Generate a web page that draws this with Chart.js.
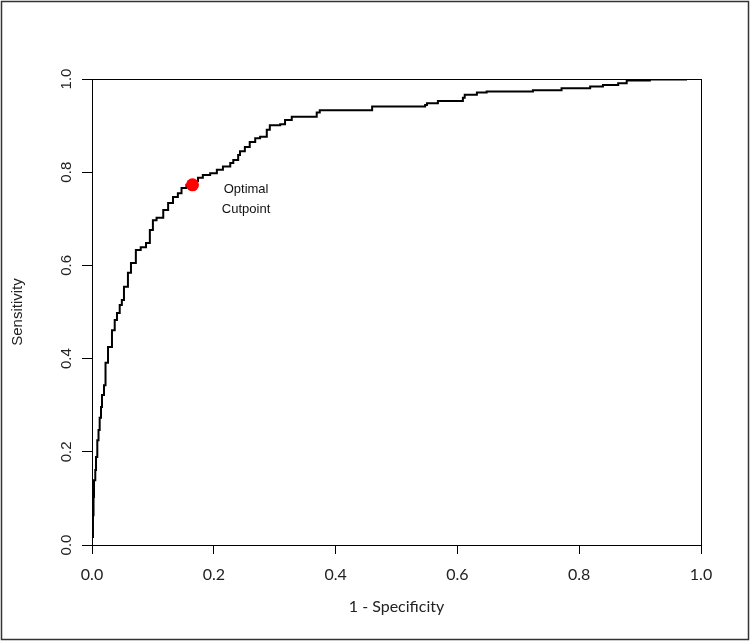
<!DOCTYPE html>
<html>
<head>
<meta charset="utf-8">
<script src="https://cdn.jsdelivr.net/npm/chart.js@4.4.1/dist/chart.umd.min.js"></script>
<style>
  html, body { margin: 0; padding: 0; background: #fff; }
  #wrap { width: 750px; height: 641px; position: relative; }
</style>
</head>
<body>
<div id="wrap"><canvas id="c" width="750" height="641"></canvas></div>
<script>
// ROC curve points (1 - specificity, sensitivity)
const fpr = [0, 0.0016, 0.0025, 0.0033, 0.0054, 0.0066, 0.0087, 0.0107, 0.0126, 0.0148, 0.0164, 0.0197, 0.0222, 0.0263, 0.0328, 0.0373, 0.041, 0.0455, 0.049, 0.0525, 0.059, 0.064, 0.072, 0.080, 0.0887, 0.095, 0.100, 0.106, 0.117, 0.125, 0.133, 0.141, 0.147, 0.155, 0.165, 0.174, 0.182, 0.194, 0.205, 0.215, 0.227, 0.232, 0.240, 0.243, 0.251, 0.259, 0.268, 0.276, 0.287, 0.292, 0.309, 0.317, 0.328, 0.333, 0.369, 0.374, 0.402, 0.460, 0.463, 0.547, 0.550, 0.568, 0.609, 0.612, 0.632, 0.648, 0.724, 0.771, 0.818, 0.839, 0.864, 0.878, 0.916, 0.927, 0.977];
const tpr = [0, 0.017, 0.064, 0.103, 0.139, 0.161, 0.189, 0.225, 0.247, 0.273, 0.296, 0.322, 0.343, 0.391, 0.425, 0.461, 0.483, 0.498, 0.515, 0.526, 0.554, 0.584, 0.605, 0.633, 0.639, 0.648, 0.676, 0.697, 0.702, 0.719, 0.734, 0.747, 0.755, 0.766, 0.773, 0.781, 0.788, 0.794, 0.798, 0.805, 0.812, 0.820, 0.826, 0.837, 0.845, 0.854, 0.865, 0.873, 0.876, 0.891, 0.901, 0.903, 0.912, 0.919, 0.919, 0.928, 0.933, 0.933, 0.941, 0.941, 0.944, 0.948, 0.953, 0.960, 0.966, 0.971, 0.973, 0.976, 0.980, 0.984, 0.987, 0.991, 0.997, 0.999, 0.999];
const optimalX = [0.165];
const optimalY = [0.773];
const annotationLines = ["Optimal", "Cutpoint"];
const annotationPos = { x: 0.253, y: [0.762, 0.721] };
const tickValues = [0, 0.2, 0.4, 0.6, 0.8, 1.0];
const xTitle = "1 - Specificity";
const yTitle = "Sensitivity";

const rocData = fpr.map((v, i) => ({ x: v, y: tpr[i] }));
const optData = optimalX.map((v, i) => ({ x: v, y: optimalY[i] }));

const decor = {
  id: 'decor',
  beforeDraw(chart) {
    const ctx = chart.ctx;
    ctx.save();
    ctx.fillStyle = '#fff';
    ctx.fillRect(0, 0, chart.width, chart.height);
    ctx.restore();
  },
  afterDraw(chart) {
    const ctx = chart.ctx;
    const a = chart.chartArea;
    const xs = chart.scales.x, ys = chart.scales.y;
    ctx.save();
    // outer border
    ctx.strokeStyle = '#333';
    ctx.lineWidth = 1.5;
    ctx.strokeRect(1.5, 1.5, chart.width - 3, chart.height - 3);
    // plot frame
    ctx.strokeStyle = '#000';
    ctx.lineWidth = 1;
    ctx.strokeRect(Math.round(a.left) + 0.5, Math.round(a.top) + 0.5, Math.round(a.right - a.left), Math.round(a.bottom - a.top));
    // rotated y tick labels
    ctx.fillStyle = '#222';
    ctx.font = '15px "Liberation Sans", Arial, sans-serif';
    ctx.textAlign = 'center';
    ctx.textBaseline = 'middle';
    ys.ticks.forEach(t => {
      const py = ys.getPixelForValue(t.value);
      ctx.save();
      ctx.translate(67, py);
      ctx.rotate(-Math.PI / 2);
      ctx.fillText(t.value.toFixed(1), 0, 0);
      ctx.restore();
    });
    // annotation text
    ctx.font = '13px "Liberation Sans", Arial, sans-serif';
    ctx.fillStyle = '#111';
    annotationLines.forEach((s, i) => {
      ctx.fillText(s, xs.getPixelForValue(annotationPos.x), ys.getPixelForValue(annotationPos.y[i]));
    });
    ctx.restore();
  }
};

new Chart(document.getElementById('c'), {
  type: 'scatter',
  data: {
    datasets: [
      {
        label: 'ROC',
        data: rocData,
        showLine: true,
        stepped: 'after',
        borderColor: '#000',
        borderWidth: 2,
        pointRadius: 0,
        tension: 0,
        order: 2
      },
      {
        label: 'Optimal Cutpoint',
        data: optData,
        showLine: false,
        pointRadius: 6.5,
        pointBackgroundColor: '#ff0000',
        pointBorderColor: '#ff0000',
        borderWidth: 0,
        order: 1
      }
    ]
  },
  options: {
    responsive: false,
    animation: false,
    events: [],
    layout: { padding: { left: 5, right: 49, top: 79, bottom: 21 } },
    plugins: { legend: { display: false }, tooltip: { enabled: false } },
    scales: {
      x: {
        type: 'linear',
        min: 0, max: 1,
        afterBuildTicks(scale) { scale.ticks = tickValues.map(v => ({ value: v })); },
        afterFit(scale) { scale.height = 75; },
        grid: { drawOnChartArea: false, drawTicks: true, tickLength: 9, color: '#000', lineWidth: 1 },
        border: { display: true, color: '#000', width: 1 },
        ticks: {
          padding: 11,
          color: '#222',
          font: { family: 'Lato, "Open Sans", sans-serif', size: 16 },
          callback: v => Number(v).toFixed(1),
          maxRotation: 0
        },
        title: {
          display: true,
          text: xTitle,
          color: '#222',
          font: { family: 'Lato, "Open Sans", sans-serif', size: 16 }
        }
      },
      y: {
        type: 'linear',
        min: 0, max: 1,
        afterBuildTicks(scale) { scale.ticks = tickValues.map(v => ({ value: v })); },
        afterFit(scale) { scale.width = 87; },
        grid: { drawOnChartArea: false, drawTicks: true, tickLength: 10, color: '#000', lineWidth: 1 },
        border: { display: true, color: '#000', width: 1 },
        ticks: { display: false },
        title: {
          display: true,
          text: yTitle,
          color: '#222',
          font: { family: '"Liberation Sans", Arial, sans-serif', size: 15 }
        }
      }
    }
  },
  plugins: [decor]
});
</script>
</body>
</html>
